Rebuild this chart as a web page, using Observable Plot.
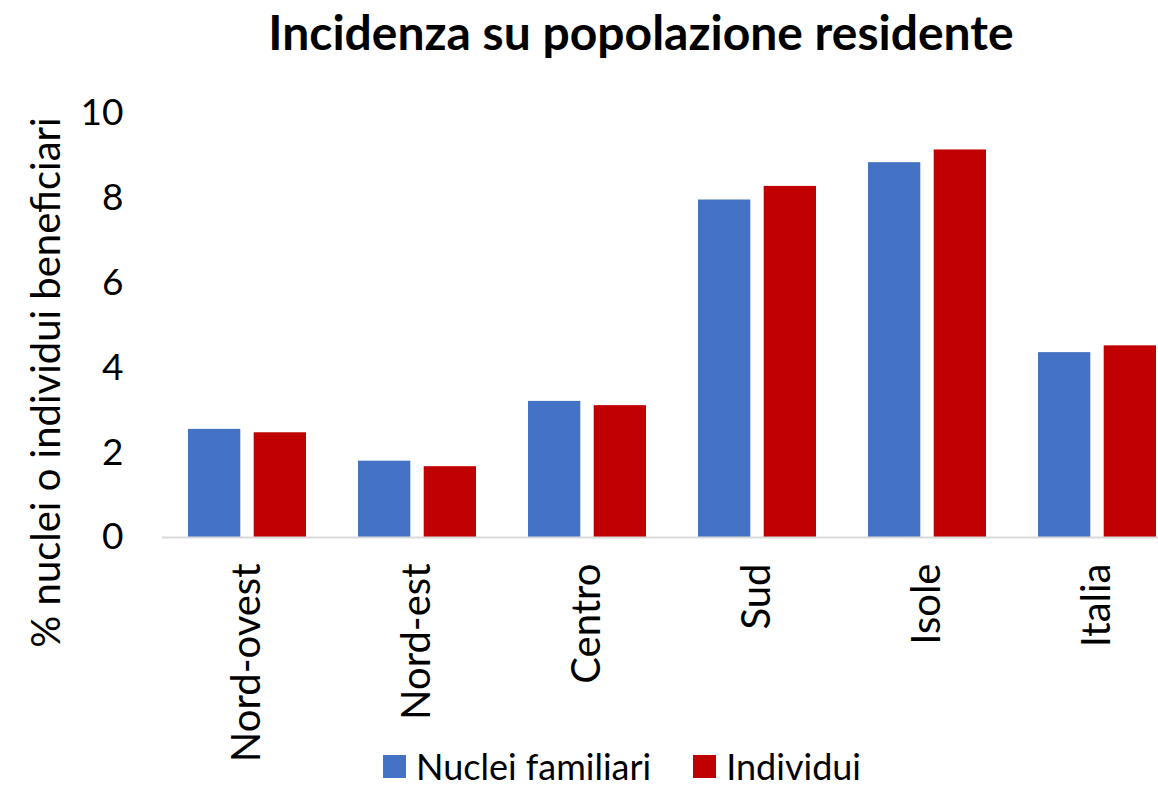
<!DOCTYPE html>
<html>
<head>
<meta charset="utf-8">
<script src="https://cdn.jsdelivr.net/npm/d3@7"></script>
<script src="https://cdn.jsdelivr.net/npm/@observablehq/plot@0.6"></script>
<style>
  html, body { margin: 0; padding: 0; background: #fff; }
  body { width: 1158px; height: 787px; overflow: hidden; position: relative; font-family: Lato, "Open Sans", sans-serif; }
  #title { position: absolute; left: 0; top: 2px; width: 1282px; text-align: center; font-weight: bold; font-size: 48px; line-height: 60px; color: #000; white-space: nowrap; }
  #chart { position: absolute; left: 0; top: 70px; width: 1182px; }
  #chart svg { max-width: none !important; }
  #chart svg g[aria-label="x-axis tick label"] text { font-size: 40px; }
  #legend { position: absolute; top: 746px; left: 383px; display: flex; align-items: center; font-size: 36px; line-height: 40px; color: #000; white-space: nowrap; }
  .sw { width: 23px; height: 23px; display: inline-block; margin-right: 10px; }
  .item { display: flex; align-items: center; margin-right: 42px; }
</style>
</head>
<body>
<div id="title">Incidenza su popolazione residente</div>
<div id="chart"></div>
<div id="legend"></div>
<script>
const regions = ["Nord-ovest", "Nord-est", "Centro", "Sud", "Isole", "Italia"];
const series = ["Nuclei familiari", "Individui"];
const nuclei = [2.55, 1.80, 3.21, 7.96, 8.84, 4.36];
const individui = [2.47, 1.67, 3.11, 8.28, 9.14, 4.52];
const colors = ["#4472C4", "#C00000"];
const yTicks = [0, 2, 4, 6, 8, 10];
const yLabel = "% nuclei o individui beneficiari";

const dataN = regions.map((r, i) => ({region: r, series: series[0], value: nuclei[i]}));
const dataI = regions.map((r, i) => ({region: r, series: series[1], value: individui[i]}));

const bandW = 118, barW = 52.3;

const plot = Plot.plot({
  width: 1182,
  height: 680,
  marginLeft: 162,
  marginRight: 0,
  marginTop: 43,
  marginBottom: 213,
  style: {fontFamily: "Lato, 'Open Sans', sans-serif", fontSize: "37px", color: "#000", background: "transparent", overflow: "visible", maxWidth: "none"},
  x: {domain: regions, paddingInner: 52 / 170, paddingOuter: 26 / 170, label: null, tickSize: 0, tickPadding: 26, tickRotate: -90},
  y: {domain: [0, 10], ticks: yTicks, label: null, tickSize: 0, tickPadding: 39},
  color: {domain: series, range: colors},
  marks: [
    Plot.barY(dataN, {x: "region", y: "value", fill: "series", insetRight: bandW - barW}),
    Plot.barY(dataI, {x: "region", y: "value", fill: "series", insetLeft: bandW - barW}),
    Plot.ruleY([0], {stroke: "#d9d9d9", strokeWidth: 2}),
    Plot.text([yLabel], {frameAnchor: "left", textAnchor: "middle", dx: -115, dy: 57, rotate: -90, fontSize: 40, fill: "#000"})
  ]
});
document.getElementById("chart").appendChild(plot);

const legend = document.getElementById("legend");
series.forEach((s, i) => {
  const item = document.createElement("div");
  item.className = "item";
  const sw = document.createElement("span");
  sw.className = "sw";
  sw.style.background = colors[i];
  const t = document.createElement("span");
  t.textContent = s;
  item.appendChild(sw);
  item.appendChild(t);
  legend.appendChild(item);
});
</script>
</body>
</html>
